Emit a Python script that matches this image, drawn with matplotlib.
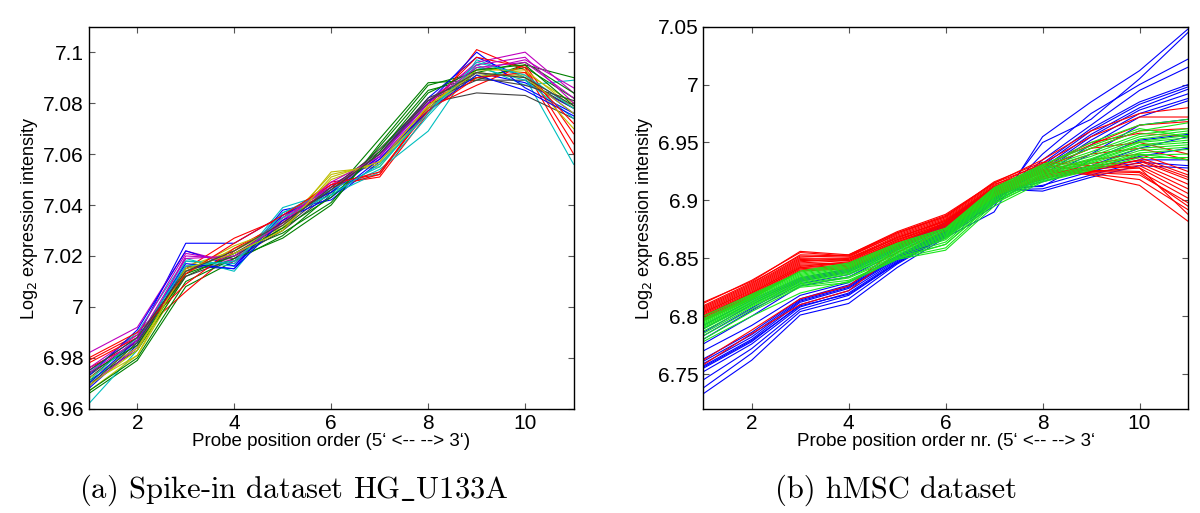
import matplotlib
matplotlib.use("Agg")
import matplotlib.pyplot as plt
from matplotlib.ticker import FuncFormatter

plt.rcParams['font.family'] = ['Liberation Sans', 'DejaVu Sans']

# probe positions along the transcript
probe_pos = list(range(1, 12))

# --- panel (a): spike-in HG_U133A, one line per array ---
spike_lines = [
    [6.975, 6.988, 7.025, 7.025, 7.036, 7.047, 7.060, 7.082, 7.098, 7.090, 7.076],
    [6.966, 6.979, 7.008, 7.018, 7.028, 7.044, 7.066, 7.088, 7.089, 7.095, 7.090],
    [6.979, 6.989, 7.006, 7.022, 7.034, 7.048, 7.051, 7.076, 7.101, 7.093, 7.060],
    [6.962, 6.983, 7.018, 7.016, 7.039, 7.045, 7.054, 7.069, 7.097, 7.090, 7.056],
    [6.982, 6.992, 7.022, 7.017, 7.033, 7.046, 7.059, 7.080, 7.096, 7.100, 7.084],
    [6.970, 6.981, 7.013, 7.023, 7.030, 7.053, 7.055, 7.078, 7.094, 7.092, 7.080],
    [6.973, 6.987, 7.014, 7.020, 7.031, 7.046, 7.060, 7.080, 7.084, 7.083, 7.074],
    [6.968, 6.985, 7.016, 7.015, 7.038, 7.042, 7.057, 7.078, 7.092, 7.088, 7.078],
    [6.971, 6.983, 7.012, 7.021, 7.029, 7.041, 7.063, 7.085, 7.090, 7.094, 7.082],
    [6.976, 6.986, 7.015, 7.027, 7.035, 7.049, 7.052, 7.078, 7.087, 7.095, 7.068],
    [6.974, 6.990, 7.019, 7.014, 7.037, 7.044, 7.053, 7.075, 7.095, 7.087, 7.089],
    [6.969, 6.984, 7.020, 7.019, 7.034, 7.048, 7.058, 7.079, 7.093, 7.097, 7.086],
    [6.967, 6.981, 7.016, 7.022, 7.032, 7.052, 7.056, 7.078, 7.091, 7.091, 7.070],
    [6.972, 6.987, 7.012, 7.019, 7.030, 7.045, 7.062, 7.081, 7.089, 7.089, 7.078],
    [6.973, 6.991, 7.022, 7.016, 7.036, 7.045, 7.059, 7.080, 7.100, 7.086, 7.076],
    [6.967, 6.980, 7.010, 7.019, 7.027, 7.040, 7.064, 7.087, 7.092, 7.096, 7.084],
    [6.980, 6.990, 7.009, 7.023, 7.033, 7.047, 7.052, 7.079, 7.098, 7.094, 7.064],
    [6.970, 6.986, 7.018, 7.017, 7.037, 7.046, 7.055, 7.077, 7.094, 7.089, 7.074],
    [6.976, 6.989, 7.021, 7.018, 7.035, 7.047, 7.060, 7.081, 7.095, 7.098, 7.080],
    [6.972, 6.984, 7.014, 7.024, 7.031, 7.050, 7.057, 7.079, 7.093, 7.093, 7.078],
    [6.969, 6.986, 7.015, 7.021, 7.032, 7.047, 7.061, 7.082, 7.090, 7.087, 7.081],
    [6.970, 6.987, 7.017, 7.015, 7.034, 7.043, 7.058, 7.077, 7.091, 7.085, 7.075],
    [6.974, 6.985, 7.013, 7.020, 7.031, 7.043, 7.061, 7.084, 7.093, 7.095, 7.079],
    [6.978, 6.988, 7.013, 7.025, 7.036, 7.048, 7.053, 7.077, 7.090, 7.092, 7.072],
    [6.971, 6.988, 7.016, 7.018, 7.035, 7.044, 7.056, 7.076, 7.096, 7.091, 7.078],
    [6.974, 6.987, 7.019, 7.020, 7.033, 7.049, 7.059, 7.080, 7.094, 7.096, 7.082],
    [6.969, 6.983, 7.015, 7.021, 7.030, 7.051, 7.057, 7.079, 7.092, 7.090, 7.076],
    [6.975, 6.988, 7.014, 7.022, 7.033, 7.046, 7.060, 7.081, 7.092, 7.090, 7.079],
]

# --- panel (b): hMSC, three groups of arrays ---
hmsc_red = [
    [6.812, 6.830, 6.856, 6.853, 6.873, 6.888, 6.915, 6.935, 6.960, 6.975, 6.980],
    [6.808, 6.828, 6.853, 6.852, 6.870, 6.885, 6.913, 6.932, 6.955, 6.972, 6.972],
    [6.806, 6.826, 6.850, 6.850, 6.869, 6.884, 6.912, 6.930, 6.950, 6.958, 6.955],
    [6.804, 6.824, 6.848, 6.849, 6.868, 6.883, 6.911, 6.928, 6.945, 6.950, 6.940],
    [6.803, 6.822, 6.846, 6.848, 6.866, 6.882, 6.910, 6.926, 6.940, 6.945, 6.935],
    [6.802, 6.821, 6.845, 6.846, 6.865, 6.881, 6.909, 6.925, 6.935, 6.940, 6.925],
    [6.800, 6.820, 6.844, 6.845, 6.864, 6.880, 6.908, 6.924, 6.932, 6.937, 6.922],
    [6.799, 6.818, 6.842, 6.844, 6.863, 6.879, 6.907, 6.922, 6.930, 6.934, 6.918],
    [6.798, 6.817, 6.841, 6.843, 6.862, 6.878, 6.906, 6.921, 6.928, 6.932, 6.914],
    [6.797, 6.816, 6.840, 6.842, 6.861, 6.877, 6.905, 6.920, 6.927, 6.930, 6.910],
    [6.796, 6.815, 6.839, 6.841, 6.860, 6.876, 6.904, 6.919, 6.925, 6.928, 6.906],
    [6.801, 6.820, 6.843, 6.847, 6.866, 6.880, 6.910, 6.923, 6.926, 6.925, 6.902],
    [6.805, 6.825, 6.849, 6.848, 6.868, 6.882, 6.912, 6.925, 6.924, 6.922, 6.898],
    [6.809, 6.829, 6.852, 6.851, 6.871, 6.886, 6.914, 6.927, 6.923, 6.918, 6.892],
    [6.803, 6.823, 6.847, 6.850, 6.867, 6.883, 6.911, 6.926, 6.922, 6.913, 6.882],
    [6.800, 6.819, 6.842, 6.846, 6.864, 6.879, 6.908, 6.924, 6.927, 6.935, 6.920],
    [6.762, 6.788, 6.815, 6.826, 6.858, 6.876, 6.905, 6.930, 6.948, 6.965, 6.968],
    [6.758, 6.785, 6.810, 6.822, 6.855, 6.874, 6.903, 6.928, 6.945, 6.960, 6.962],
    [6.807, 6.827, 6.851, 6.853, 6.872, 6.887, 6.915, 6.931, 6.925, 6.924, 6.895],
    [6.811, 6.831, 6.855, 6.852, 6.872, 6.886, 6.916, 6.933, 6.930, 6.928, 6.888],
]
hmsc_blue = [
    [6.733, 6.762, 6.801, 6.811, 6.842, 6.868, 6.890, 6.955, 6.985, 7.012, 7.048],
    [6.738, 6.768, 6.804, 6.815, 6.845, 6.869, 6.895, 6.950, 6.970, 7.005, 7.045],
    [6.745, 6.772, 6.806, 6.818, 6.846, 6.870, 6.897, 6.940, 6.975, 7.000, 7.022],
    [6.752, 6.776, 6.808, 6.820, 6.847, 6.871, 6.899, 6.935, 6.965, 6.995, 7.015],
    [6.755, 6.778, 6.810, 6.822, 6.848, 6.872, 6.900, 6.932, 6.962, 6.985, 7.000],
    [6.757, 6.780, 6.812, 6.824, 6.849, 6.873, 6.901, 6.930, 6.960, 6.983, 6.998],
    [6.759, 6.782, 6.813, 6.825, 6.850, 6.873, 6.902, 6.928, 6.957, 6.980, 6.996],
    [6.761, 6.784, 6.814, 6.826, 6.850, 6.874, 6.903, 6.926, 6.955, 6.978, 6.992],
    [6.763, 6.786, 6.815, 6.827, 6.851, 6.875, 6.904, 6.925, 6.952, 6.975, 6.988],
    [6.756, 6.779, 6.809, 6.819, 6.846, 6.870, 6.898, 6.922, 6.948, 6.972, 6.986],
    [6.770, 6.792, 6.818, 6.829, 6.852, 6.874, 6.902, 6.920, 6.940, 6.965, 6.970],
    [6.776, 6.800, 6.826, 6.834, 6.855, 6.876, 6.906, 6.918, 6.930, 6.945, 6.955],
    [6.780, 6.805, 6.828, 6.836, 6.857, 6.877, 6.907, 6.916, 6.928, 6.938, 6.945],
    [6.783, 6.807, 6.830, 6.838, 6.858, 6.878, 6.908, 6.913, 6.925, 6.935, 6.935],
    [6.786, 6.810, 6.831, 6.839, 6.859, 6.879, 6.909, 6.910, 6.922, 6.933, 6.930],
    [6.789, 6.812, 6.832, 6.840, 6.860, 6.880, 6.910, 6.908, 6.920, 6.930, 6.928],
    [6.792, 6.814, 6.833, 6.841, 6.861, 6.881, 6.911, 6.912, 6.935, 6.952, 6.957],
]
hmsc_green = [
    [6.800, 6.819, 6.838, 6.845, 6.862, 6.875, 6.910, 6.930, 6.950, 6.965, 6.970],
    [6.798, 6.818, 6.837, 6.844, 6.861, 6.874, 6.909, 6.929, 6.945, 6.960, 6.967],
    [6.796, 6.817, 6.836, 6.843, 6.860, 6.873, 6.908, 6.928, 6.942, 6.957, 6.962],
    [6.795, 6.816, 6.835, 6.842, 6.859, 6.872, 6.907, 6.927, 6.940, 6.955, 6.960],
    [6.794, 6.815, 6.834, 6.841, 6.858, 6.871, 6.906, 6.926, 6.938, 6.953, 6.958],
    [6.793, 6.814, 6.833, 6.840, 6.857, 6.870, 6.905, 6.925, 6.936, 6.951, 6.956],
    [6.792, 6.813, 6.832, 6.839, 6.856, 6.869, 6.904, 6.924, 6.935, 6.950, 6.954],
    [6.791, 6.812, 6.831, 6.838, 6.855, 6.868, 6.903, 6.923, 6.934, 6.948, 6.952],
    [6.790, 6.811, 6.830, 6.837, 6.854, 6.867, 6.902, 6.922, 6.933, 6.947, 6.950],
    [6.789, 6.810, 6.829, 6.836, 6.853, 6.866, 6.901, 6.921, 6.932, 6.945, 6.948],
    [6.787, 6.809, 6.828, 6.834, 6.852, 6.864, 6.900, 6.920, 6.930, 6.943, 6.946],
    [6.785, 6.808, 6.827, 6.833, 6.851, 6.862, 6.899, 6.919, 6.929, 6.941, 6.944],
    [6.783, 6.806, 6.826, 6.831, 6.850, 6.859, 6.897, 6.918, 6.928, 6.939, 6.940],
    [6.780, 6.804, 6.825, 6.829, 6.849, 6.857, 6.895, 6.916, 6.926, 6.937, 6.937],
    [6.778, 6.800, 6.820, 6.830, 6.850, 6.862, 6.898, 6.917, 6.927, 6.940, 6.935],
    [6.797, 6.816, 6.839, 6.846, 6.863, 6.876, 6.911, 6.931, 6.947, 6.962, 6.955],
]

# old MATLAB colour order
matlab_colors = [(0, 0, 1), (0, 0.5, 0), (1, 0, 0), (0, 0.75, 0.75),
                 (0.75, 0, 0.75), (0.75, 0.75, 0), (0.25, 0.25, 0.25)]

fig = plt.figure(figsize=(12, 5.13), dpi=100)
ax1 = fig.add_axes([0.074, 0.203, 0.404, 0.745])
ax2 = fig.add_axes([0.586, 0.203, 0.404, 0.745])

for i, ys in enumerate(spike_lines):
    ax1.plot(probe_pos, ys, color=matlab_colors[i % 7], lw=0.8)

for ys in hmsc_blue:
    ax2.plot(probe_pos, ys, color=(0, 0, 1), lw=0.8)
for ys in hmsc_red:
    ax2.plot(probe_pos, ys, color=(1, 0, 0), lw=0.8)
for ys in hmsc_green:
    ax2.plot(probe_pos, ys, color=(0.1, 0.9, 0.1), lw=0.8)

fmt = FuncFormatter(lambda v, p: "%g" % round(v, 4))

ax1.set_xlim(1, 11)
ax1.set_ylim(6.96, 7.11)
ax1.set_yticks([6.96, 6.98, 7.0, 7.02, 7.04, 7.06, 7.08, 7.1])
ax1.set_xlabel("Probe position order (5‘ <-- --> 3‘)", fontsize=13.5, labelpad=0)

ax2.set_xlim(1, 11)
ax2.set_ylim(6.72, 7.05)
ax2.set_yticks([6.75, 6.8, 6.85, 6.9, 6.95, 7.0, 7.05])
ax2.set_xlabel("Probe position order nr. (5‘ <-- --> 3‘", fontsize=13.5, labelpad=0)

for ax in (ax1, ax2):
    ax.set_xticks([2, 4, 6, 8, 10])
    ax.yaxis.set_major_formatter(fmt)
    ax.set_ylabel("Log$_2$ expression intensity", fontsize=13, labelpad=2)
    ax.tick_params(direction="in", top=True, right=True, length=4,
                   labelsize=15, color="#555555")
    for s in ax.spines.values():
        s.set_linewidth(1.0)

fig.text(0.245, 0.045, r"(a) Spike-in dataset HG$\_$U133A", family="cmr10",
         math_fontfamily="cm", fontsize=22, ha="center", va="center")
fig.text(0.747, 0.045, "(b) hMSC dataset", family="cmr10",
         fontsize=22, ha="center", va="center")

fig.savefig("out.png", dpi=100)
